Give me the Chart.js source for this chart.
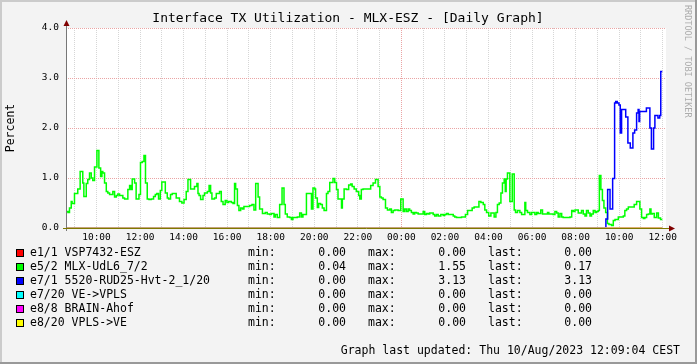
<!DOCTYPE html>
<html>
<head>
<meta charset="utf-8">
<title>Interface TX Utilization - MLX-ESZ</title>
<script src="https://cdn.jsdelivr.net/npm/chart.js@4.4.0/dist/chart.umd.min.js"></script>
<style>
  html, body { margin: 0; padding: 0; background: #f3f3f3; }
  #wrap { width: 697px; height: 364px; }
</style>
</head>
<body>
<div id="wrap"><canvas id="graph" width="697" height="364"></canvas></div>
<script>
// ---- data (hours since 00:00 of the first day, percent) ----
// each value holds from its hour until the next hour in the list
const greenHours = [
  8.61, 8.69, 8.76, 8.84, 8.88, 8.99, 9.14, 9.25, 9.37, 9.42,
  9.53, 9.60, 9.68, 9.76, 9.83, 9.91, 10.02, 10.11, 10.19, 10.25,
  10.29, 10.37, 10.45, 10.52, 10.60, 10.75, 10.83, 10.91, 10.98, 11.06,
  11.21, 11.29, 11.44, 11.52, 11.59, 11.64, 11.75, 11.82, 11.95, 12.02,
  12.10, 12.18, 12.25, 12.33, 12.41, 12.51, 12.62, 12.70, 12.77, 12.85,
  12.93, 13.00, 13.16, 13.25, 13.31, 13.40, 13.48, 13.66, 13.81, 13.92,
  14.02, 14.12, 14.20, 14.32, 14.50, 14.61, 14.66, 14.71, 14.78, 14.89,
  14.96, 15.09, 15.17, 15.24, 15.30, 15.42, 15.50, 15.65, 15.73, 15.81,
  15.91, 15.99, 16.07, 16.19, 16.27, 16.34, 16.39, 16.47, 16.54, 16.62,
  16.70, 16.77, 17.03, 17.14, 17.23, 17.31, 17.42, 17.49, 17.62, 17.75,
  17.84, 17.95, 18.03, 18.15, 18.21, 18.30, 18.41, 18.52, 18.61, 18.67,
  18.76, 18.87, 18.95, 19.02, 19.22, 19.33, 19.41, 19.48, 19.64, 19.87,
  19.94, 20.02, 20.06, 20.14, 20.20, 20.29, 20.37, 20.45, 20.56, 20.63,
  20.71, 20.86, 20.94, 21.02, 21.09, 21.25, 21.29, 21.37, 21.48, 21.58,
  21.67, 21.74, 21.83, 21.93, 22.04, 22.09, 22.16, 22.24, 22.59, 22.70,
  22.81, 22.93, 23.01, 23.08, 23.16, 23.27, 23.36, 23.47, 23.54, 23.62,
  23.70, 23.85, 23.97, 24.08, 24.15, 24.23, 24.31, 24.38, 24.46, 24.54,
  24.61, 24.69, 24.77, 25.00, 25.07, 25.15, 25.23, 25.30, 25.46, 25.53,
  25.61, 25.69, 25.81, 25.92, 25.99, 26.07, 26.15, 26.38, 26.45, 26.53,
  26.76, 26.94, 27.04, 27.25, 27.34, 27.56, 27.65, 27.76, 27.83, 27.91,
  28.01, 28.11, 28.26, 28.34, 28.41, 28.49, 28.57, 28.64, 28.72, 28.77,
  28.81, 28.87, 28.98, 29.09, 29.18, 29.24, 29.33, 29.44, 29.52, 29.67,
  29.71, 29.79, 29.90, 29.98, 30.13, 30.21, 30.28, 30.40, 30.48, 30.71,
  30.77, 30.97, 31.05, 31.13, 31.20, 31.28, 31.36, 31.43, 31.74, 31.82,
  31.89, 31.97, 32.12, 32.27, 32.35, 32.43, 32.50, 32.58, 32.66, 32.73,
  32.81, 32.89, 32.96, 33.04, 33.09, 33.16, 33.23, 33.30, 33.38, 33.46,
  33.53, 33.65, 33.73, 33.81, 33.96, 34.19, 34.26, 34.34, 34.42, 34.69,
  34.80, 34.95, 35.03, 35.11, 35.18, 35.26, 35.34, 35.41, 35.46, 35.52,
  35.61, 35.72, 35.80, 35.90, 35.98
];
const greenPct = [
  0.33, 0.31, 0.40, 0.53, 0.49, 0.69, 0.78, 1.13, 0.90, 0.63,
  0.89, 0.97, 1.10, 1.00, 0.95, 1.22, 1.55, 1.20, 1.03, 1.13,
  1.10, 0.90, 0.73, 0.70, 0.67, 0.73, 0.62, 0.65, 0.68, 0.65,
  0.60, 0.58, 0.77, 0.85, 0.77, 0.98, 0.90, 0.58, 0.67, 1.31,
  1.33, 1.45, 0.90, 0.58, 0.57, 0.58, 0.63, 0.67, 0.69, 0.58,
  0.75, 0.92, 0.70, 0.60, 0.58, 0.67, 0.69, 0.60, 0.53, 0.50,
  0.57, 0.73, 0.97, 0.78, 0.83, 0.89, 0.69, 0.65, 0.57, 0.65,
  0.70, 0.73, 0.85, 0.70, 0.58, 0.60, 0.69, 0.73, 0.53, 0.47,
  0.55, 0.51, 0.53, 0.51, 0.49, 0.89, 0.78, 0.45, 0.35, 0.40,
  0.38, 0.43, 0.45, 0.47, 0.36, 0.89, 0.62, 0.38, 0.29, 0.31,
  0.28, 0.27, 0.29, 0.22, 0.27, 0.21, 0.47, 0.80, 0.47, 0.28,
  0.22, 0.21, 0.17, 0.21, 0.22, 0.30, 0.22, 0.27, 0.69, 0.38,
  0.80, 0.78, 0.60, 0.41, 0.49, 0.47, 0.40, 0.35, 0.69, 0.73,
  0.91, 0.99, 0.91, 0.77, 0.58, 0.40, 0.58, 0.78, 0.77, 0.86,
  0.88, 0.83, 0.78, 0.73, 0.65, 0.58, 0.77, 0.78, 0.85, 0.90,
  0.97, 0.83, 0.62, 0.60, 0.57, 0.40, 0.36, 0.38, 0.31, 0.35,
  0.36, 0.35, 0.58, 0.33, 0.38, 0.33, 0.38, 0.35, 0.31, 0.28,
  0.31, 0.30, 0.28, 0.33, 0.27, 0.29, 0.28, 0.30, 0.27, 0.24,
  0.27, 0.24, 0.27, 0.25, 0.27, 0.29, 0.27, 0.24, 0.22, 0.21,
  0.22, 0.27, 0.35, 0.40, 0.42, 0.53, 0.51, 0.47, 0.36, 0.31,
  0.24, 0.30, 0.22, 0.31, 0.47, 0.50, 0.70, 0.90, 0.98, 0.73,
  0.98, 1.10, 0.53, 1.08, 0.36, 0.31, 0.35, 0.31, 0.27, 0.51,
  0.35, 0.31, 0.27, 0.31, 0.27, 0.31, 0.29, 0.36, 0.28, 0.31,
  0.28, 0.27, 0.33, 0.30, 0.22, 0.29, 0.22, 0.21, 0.22, 0.35,
  0.33, 0.36, 0.30, 0.35, 0.28, 0.24, 0.35, 0.30, 0.24, 0.28,
  0.35, 0.31, 0.33, 0.35, 1.05, 0.77, 0.55, 0.40, 0.31, 0.09,
  0.07, 0.05, 0.15, 0.17, 0.22, 0.24, 0.35, 0.38, 0.42, 0.47,
  0.53, 0.38, 0.21, 0.19, 0.21, 0.27, 0.28, 0.38, 0.28, 0.29,
  0.21, 0.30, 0.20, 0.17, 0.17
];
const blueHours = [
  8.61, 33.39, 33.47, 33.58, 33.70, 33.79, 33.84, 33.91, 33.99, 34.05,
  34.11, 34.30, 34.40, 34.51, 34.63, 34.71, 34.80, 34.87, 34.91, 34.94,
  35.25, 35.41, 35.48, 35.58, 35.64, 35.78, 35.86, 35.91, 35.98
];
const bluePct = [
  0.00, 0.18, 0.77, 0.38, 0.99, 2.50, 2.53, 2.50, 2.46, 1.90,
  2.37, 2.22, 1.70, 1.60, 1.90, 1.96, 2.30, 2.37, 2.13, 2.33,
  2.40, 2.00, 1.58, 2.00, 2.25, 2.20, 2.25, 3.13, 3.13
];
const flatHours = [8.61, 35.98];
const flatPct = [0, 0];

const seriesNames = ['e1/1 VSP7432-ESZ', 'e5/2 MLX-UdL6_7/2', 'e7/1 5520-RUD25-Hvt-2_1/20',
                     'e7/20 VE->VPLS', 'e8/8 BRAIN-Ahof', 'e8/20 VPLS->VE'];
const seriesMin  = [0.00, 0.04, 0.00, 0.00, 0.00, 0.00];
const seriesMax  = [0.00, 1.55, 3.13, 0.00, 0.00, 0.00];
const seriesLast = [0.00, 0.17, 3.13, 0.00, 0.00, 0.00];
const seriesColors = ['#ff0000', '#00ff00', '#0000ff', '#00ffff', '#ff00ff', '#ffff00'];

const timeLabels = ['10:00', '12:00', '14:00', '16:00', '18:00', '20:00', '22:00',
                    '00:00', '02:00', '04:00', '06:00', '08:00', '10:00', '12:00'];
const timeLabelHours = [10, 12, 14, 16, 18, 20, 22, 24, 26, 28, 30, 32, 34, 36];
const yTicks = [0, 1, 2, 3, 4];

const titleText = 'Interface TX Utilization - MLX-ESZ - [Daily Graph]';
const footerText = 'Graph last updated: Thu 10/Aug/2023 12:09:04 CEST';

const MONO = '"DejaVu Sans Mono", "Liberation Mono", monospace';

function pts(hours, vals) {
  return hours.map((h, i) => ({x: h, y: vals[i]}));
}

const seriesPoints = [
  pts(flatHours, flatPct),
  pts(greenHours, greenPct),
  pts(blueHours, bluePct),
  pts(flatHours, flatPct),
  pts(flatHours, flatPct),
  pts(flatHours, flatPct)
];

// background, frame, axes and all the rrdtool-style text
const rrdLook = {
  id: 'rrdLook',
  beforeDraw(chart) {
    const {ctx, chartArea: a, width: w, height: h} = chart;
    ctx.save();
    ctx.fillStyle = '#f3f3f3';
    ctx.fillRect(0, 0, w, h);
    ctx.fillStyle = '#cbcbcb';
    ctx.fillRect(0, 0, w, 2);
    ctx.fillRect(0, 0, 2, h);
    ctx.fillStyle = '#999999';
    ctx.fillRect(0, h - 2, w, 2);
    ctx.fillRect(w - 2, 0, 2, h);
    ctx.fillStyle = '#ffffff';
    ctx.fillRect(a.left, a.top, a.right - a.left, a.bottom - a.top);
    ctx.restore();
  },
  afterDatasetsDraw(chart) {
    const {ctx, chartArea: a} = chart;
    ctx.save();
    // y axis
    ctx.strokeStyle = '#777777';
    ctx.lineWidth = 1;
    ctx.beginPath();
    ctx.moveTo(a.left + 0.5, a.bottom + 3);
    ctx.lineTo(a.left + 0.5, a.top - 4);
    ctx.stroke();
    // x axis
    ctx.strokeStyle = '#7f7800';
    ctx.beginPath();
    ctx.moveTo(a.left - 3, a.bottom + 0.5);
    ctx.lineTo(a.right + 4, a.bottom + 0.5);
    ctx.stroke();
    // arrows
    ctx.fillStyle = '#800000';
    ctx.beginPath();
    ctx.moveTo(a.left + 0.5, a.top - 8);
    ctx.lineTo(a.left - 2.5, a.top - 2);
    ctx.lineTo(a.left + 3.5, a.top - 2);
    ctx.closePath();
    ctx.fill();
    ctx.beginPath();
    ctx.moveTo(a.right + 9, a.bottom + 0.5);
    ctx.lineTo(a.right + 3, a.bottom - 2.5);
    ctx.lineTo(a.right + 3, a.bottom + 3.5);
    ctx.closePath();
    ctx.fill();
    ctx.restore();
  },
  afterDraw(chart) {
    const {ctx} = chart;
    ctx.save();
    ctx.fillStyle = '#000000';
    ctx.textBaseline = 'middle';

    ctx.font = '13px ' + MONO;
    ctx.textAlign = 'center';
    ctx.fillText(titleText, 348, 19);

    ctx.save();
    ctx.translate(11, 128);
    ctx.rotate(-Math.PI / 2);
    ctx.font = '11.5px ' + MONO;
    ctx.fillText('Percent', 0, 0);
    ctx.restore();

    ctx.save();
    ctx.translate(687, 5);
    ctx.rotate(Math.PI / 2);
    ctx.font = '8.5px ' + MONO;
    ctx.fillStyle = '#acacac';
    ctx.textAlign = 'left';
    ctx.fillText('RRDTOOL / TOBI OETIKER', 0, 0);
    ctx.restore();

    ctx.font = '11.5px ' + MONO;
    seriesNames.forEach((name, i) => {
      const y = 253 + i * 14;
      ctx.fillStyle = seriesColors[i];
      ctx.fillRect(16, y - 4, 8, 8);
      ctx.strokeStyle = '#000000';
      ctx.lineWidth = 1;
      ctx.strokeRect(16.5, y - 3.5, 7, 7);
      ctx.fillStyle = '#000000';
      ctx.textAlign = 'left';
      ctx.fillText(name, 30, y);
      ctx.fillText('min:', 248, y);
      ctx.fillText('max:', 368, y);
      ctx.fillText('last:', 488, y);
      ctx.textAlign = 'right';
      ctx.fillText(seriesMin[i].toFixed(2), 346, y);
      ctx.fillText(seriesMax[i].toFixed(2), 466, y);
      ctx.fillText(seriesLast[i].toFixed(2), 592, y);
    });

    ctx.textAlign = 'right';
    ctx.fillText(footerText, 680, 351);
    ctx.restore();
  }
};

const datasets = seriesNames.map((name, i) => ({
  label: name,
  data: seriesPoints[i],
  borderColor: seriesColors[i],
  backgroundColor: seriesColors[i],
  borderWidth: (i === 1 || i === 2) ? 1.5 : 1,
  pointRadius: 0,
  stepped: true,
  fill: false,
  order: seriesNames.length - i
}));

new Chart(document.getElementById('graph'), {
  type: 'line',
  data: {datasets: datasets},
  plugins: [rrdLook],
  options: {
    responsive: false,
    animation: false,
    devicePixelRatio: 1,
    events: [],
    layout: {padding: {left: 0, right: 31, top: 28, bottom: 116}},
    plugins: {
      legend: {display: false},
      title: {display: false},
      tooltip: {enabled: false}
    },
    scales: {
      x: {
        type: 'linear',
        min: 8.6,
        max: 36.15,
        afterFit(scale) { scale.height = 20; },
        afterBuildTicks(scale) {
          const t = [];
          for (let hr = 9; hr <= 36; hr++) t.push({value: hr});
          scale.ticks = t;
        },
        ticks: {
          autoSkip: false,
          maxRotation: 0,
          padding: 4,
          color: '#000000',
          font: {family: MONO, size: 9.5},
          callback(v) {
            const k = timeLabelHours.indexOf(v);
            return k >= 0 ? timeLabels[k] : '';
          }
        },
        grid: {
          drawTicks: false,
          lineWidth: 1,
          color(c) {
            return c.tick && c.tick.value % 24 === 0 ? '#eaa4a4' : '#d6d6d6';
          }
        },
        border: {display: false, dash: [1, 1]}
      },
      y: {
        type: 'linear',
        min: 0,
        max: 4,
        afterFit(scale) { scale.width = 66; },
        afterBuildTicks(scale) {
          scale.ticks = yTicks.map(v => ({value: v}));
        },
        ticks: {
          padding: 7,
          color: '#000000',
          font: {family: MONO, size: 9.5},
          callback(v) { return v.toFixed(1); }
        },
        grid: {
          drawTicks: false,
          lineWidth: 1,
          color(c) { return c.tick && c.tick.value === 0 ? 'rgba(0,0,0,0)' : '#eaa4a4'; }
        },
        border: {display: false, dash: [1, 1]}
      }
    }
  }
});
</script>
</body>
</html>
